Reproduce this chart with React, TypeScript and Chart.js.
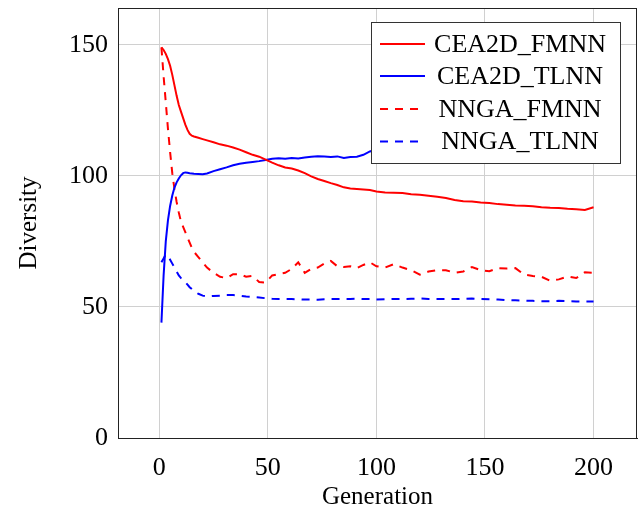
import React, { useEffect, useRef } from "react";
import { Chart, registerables } from "chart.js";

Chart.register(...registerables);

// ---- data ----
const generations = [
  1, 2, 3, 4, 5, 6, 7, 8, 9, 10, 11, 12, 13, 14, 15, 16, 18, 20, 22,
  25, 28, 31, 34, 37, 40, 43, 46, 49, 52, 55, 58, 61, 64, 67, 70, 73, 76, 79, 82, 85, 88, 91, 94, 97, 100,
  104, 108, 112, 116, 120, 124, 128, 132, 136, 140, 144, 148, 152, 156, 160, 164, 168, 172, 176, 180, 184, 188, 192, 196, 200,
];

const cea2dFmnn = [
  149, 148, 146.5, 144.5, 142, 138.5, 134.5, 130.5, 127, 124.5, 122, 119.5, 117.5, 116, 115.3, 115, 114.5, 114, 113.5,
  112.8, 112, 111.5, 110.8, 110, 109, 108, 107.3, 106.2, 105, 104, 103.2, 102.8, 102, 101, 99.8, 98.8, 98, 97.2, 96.5, 95.6, 95.2, 95, 94.8, 94.6, 94,
  93.6, 93.5, 93.4, 93, 92.8, 92.4, 92, 91.5, 90.8, 90.3, 90.2, 89.8, 89.6, 89.2, 89, 88.7, 88.6, 88.4, 88, 87.8, 87.7, 87.4, 87.2, 87, 88,
];

const cea2dTlnn = [
  44, 62, 75, 83, 88.5, 92.5, 95.5, 97.5, 99, 100.2, 101, 101.3, 101.2, 101, 100.9, 100.8, 100.7, 100.6, 100.9,
  101.8, 102.5, 103.2, 104, 104.6, 105, 105.3, 105.6, 106, 106.5, 106.7, 106.5, 106.8, 106.6, 107, 107.3, 107.5, 107.4, 107.2, 107.4, 106.8, 107.2, 107.3, 108, 109.3, 110,
  110.5, 111, 111.3, 111.6, 112, 112.3, 112.5, 112.8, 113, 113.2, 113.3, 113.6, 113.8, 114, 114.2, 114.3, 114.5, 114.6, 114.8, 115, 115.1, 115.2, 115.3, 115.4, 115.5,
];

const nngaFmnn = [
  149, 138, 128, 118, 109, 101, 95, 90, 86, 82.5, 80.5, 78.5, 76.5, 74.5, 72.5, 71, 69, 67, 65,
  63, 61.5, 61, 62.5, 62.5, 61.5, 61.8, 59.5, 59.3, 62, 62.5, 63, 64.5, 67, 63, 64.5, 65, 66.5, 67.5, 65.5, 65.2, 65.5, 64.8, 66, 67, 65.5,
  65, 66.3, 65, 64, 62.3, 63.5, 64, 64, 63, 63.5, 65.2, 64, 63.6, 64.8, 64.6, 64.8, 62.3, 61.8, 61.5, 60, 60.5, 61.6, 61, 63.2, 63,
];

const nngaTlnn = [
  67, 68.5, 70, 69.5, 68, 66.5, 65, 63.5, 62, 61, 60.5, 59.5, 58.5, 57.5, 56.8, 56, 55, 54.3, 54,
  54.2, 54.3, 54.5, 54.5, 54.3, 54, 53.8, 53.6, 53.3, 53.1, 53, 53, 53, 52.9, 52.8, 52.8, 52.7, 52.9, 53, 53, 53, 53, 53.1, 53, 53, 52.8,
  52.9, 53, 53, 53.1, 53.2, 53, 53, 53, 53, 53.1, 53.2, 53, 52.9, 52.8, 52.6, 52.5, 52.4, 52.3, 52.2, 52.2, 52.3, 52.2, 52.1, 52.1, 52.1,
];

const seriesLabels = ["CEA2D_FMNN", "CEA2D_TLNN", "NNGA_FMNN", "NNGA_TLNN"];
const xTicks = [0, 50, 100, 150, 200];
const yTicks = [0, 50, 100, 150];

const FONT = "'Liberation Serif', 'Times New Roman', Times, serif";
const RED = "#ff0000";
const BLUE = "#0000ff";
const DASH = [8, 7];

const framePlugin = {
  id: "frameAndLegend",
  afterDraw(chart: any) {
    const { ctx, chartArea } = chart;
    const { left, right, top, bottom } = chartArea;
    ctx.save();
    // frame
    ctx.strokeStyle = "#222";
    ctx.lineWidth = 1;
    ctx.setLineDash([]);
    ctx.strokeRect(Math.round(left) + 0.5, Math.round(top) + 0.5, Math.round(right - left) - 1, Math.round(bottom - top));

    // legend box
    const lx = 371, ly = 22, lw = 249, lh = 141;
    ctx.fillStyle = "#ffffff";
    ctx.fillRect(lx, ly, lw, lh);
    ctx.strokeStyle = "#333";
    ctx.lineWidth = 1;
    ctx.strokeRect(lx + 0.5, ly + 0.5, lw, lh);

    const rows = [44, 76, 109, 141.5];
    chart.data.datasets.forEach((ds: any, i: number) => {
      const y = rows[i];
      ctx.strokeStyle = ds.borderColor;
      ctx.lineWidth = ds.borderWidth;
      ctx.setLineDash(ds.borderDash || []);
      ctx.beginPath();
      ctx.moveTo(380, y);
      ctx.lineTo(425, y);
      ctx.stroke();
      ctx.setLineDash([]);
      ctx.fillStyle = "#000";
      ctx.font = `26px ${FONT}`;
      ctx.textAlign = "center";
      ctx.textBaseline = "middle";
      ctx.fillText(ds.label, 520, y + 1);
    });
    ctx.restore();
  },
};

export default function App() {
  const ref = useRef<HTMLCanvasElement>(null);

  useEffect(() => {
    document.body.style.margin = "0";
    const pts = (ys: number[]) => generations.map((x, i) => ({ x, y: ys[i] }));
    const chart = new Chart(ref.current as HTMLCanvasElement, {
      type: "line",
      data: {
        datasets: [
          { label: seriesLabels[0], data: pts(cea2dFmnn), borderColor: RED, borderWidth: 2, pointRadius: 0, fill: false },
          { label: seriesLabels[1], data: pts(cea2dTlnn), borderColor: BLUE, borderWidth: 2, pointRadius: 0, fill: false },
          { label: seriesLabels[2], data: pts(nngaFmnn), borderColor: RED, borderWidth: 2, pointRadius: 0, borderDash: DASH, fill: false },
          { label: seriesLabels[3], data: pts(nngaTlnn), borderColor: BLUE, borderWidth: 2, pointRadius: 0, borderDash: DASH, fill: false },
        ],
      },
      options: {
        animation: false,
        responsive: false,
        layout: { padding: { left: 0, right: 2, top: 8, bottom: 0 } },
        plugins: { legend: { display: false }, tooltip: { enabled: false } },
        scales: {
          x: {
            type: "linear",
            min: -19,
            max: 220,
            afterFit: (s: any) => { s.height = 74; s.paddingLeft = 0; s.paddingRight = 0; },
            afterBuildTicks: (s: any) => { s.ticks = xTicks.map((v) => ({ value: v })); },
            grid: { color: "#d0d0d0", lineWidth: 1, drawTicks: false },
            border: { display: true, color: "#222", width: 1 },
            ticks: { color: "#000", padding: 15, font: { family: FONT, size: 26 }, maxRotation: 0 },
            title: { display: true, text: "Generation", color: "#000", font: { family: FONT, size: 25 }, padding: { top: 0, bottom: 0 } },
          },
          y: {
            type: "linear",
            min: 0,
            max: 164,
            afterFit: (s: any) => { s.width = 118; s.paddingTop = 0; s.paddingBottom = 0; },
            afterBuildTicks: (s: any) => { s.ticks = yTicks.map((v) => ({ value: v })); },
            grid: { color: "#d0d0d0", lineWidth: 1, drawTicks: false },
            border: { display: true, color: "#222", width: 1 },
            ticks: { color: "#000", padding: 10, font: { family: FONT, size: 26 } },
            title: { display: true, text: "Diversity", color: "#000", font: { family: FONT, size: 25 }, padding: { top: 14, bottom: 0 } },
          },
        },
      },
      plugins: [framePlugin],
    });
    return () => chart.destroy();
  }, []);

  return (
    <div style={{ width: 639, height: 512 }}>
      <canvas ref={ref} width={639} height={512} style={{ display: "block" }} />
    </div>
  );
}
